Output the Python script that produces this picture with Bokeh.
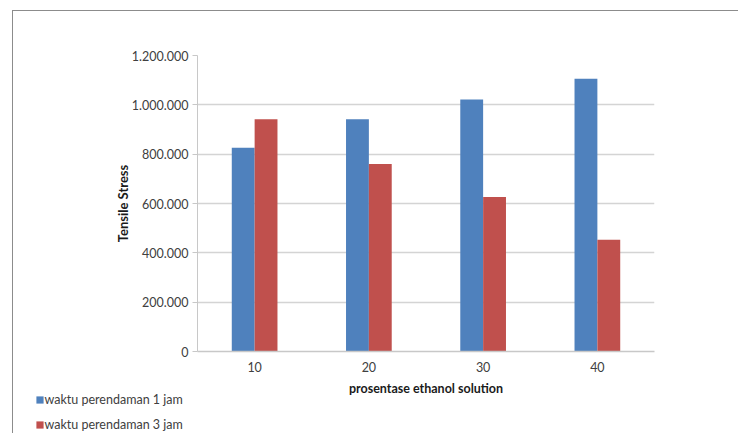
from bokeh.plotting import figure
from bokeh.layouts import column
from bokeh.models import (ColumnDataSource, FactorRange, Range1d, SingleIntervalTicker,
                          CustomJSTickFormatter, Legend, LegendItem)
from bokeh.transform import dodge
from bokeh.embed import file_html
from bokeh.resources import INLINE

# ---- data ----
categories = ["10", "20", "30", "40"]
series_names = ["waktu perendaman 1 jam", "waktu perendaman 3 jam"]
jam1 = [826000, 942000, 1022000, 1106000]
jam3 = [942000, 760000, 626000, 453000]
y_ticks_interval = 200000

BLUE = "#4f81bd"
RED = "#c0504d"
FONT = "Lato"

src = ColumnDataSource(dict(cat=categories, jam1=jam1, jam3=jam3))

p = figure(
    x_range=FactorRange(factors=categories, range_padding=0),
    y_range=Range1d(0, 1200000),
    width=725, height=390,
    output_backend="svg", toolbar_location=None,
    min_border_left=184, min_border_right=84,
    min_border_top=44, min_border_bottom=50,
)
p.frame_align = False

r1 = p.vbar(x=dodge("cat", -0.1, range=p.x_range), top="jam1", width=0.2,
            source=src, fill_color=BLUE, line_color=None)
r2 = p.vbar(x=dodge("cat", 0.1, range=p.x_range), top="jam3", width=0.2,
            source=src, fill_color=RED, line_color=None)

p.outline_line_color = None
p.background_fill_color = "white"
p.border_fill_color = "white"

# grid
p.xgrid.grid_line_color = None
p.ygrid.grid_line_color = "#d4d4d4"
p.ygrid.grid_line_width = 1.5

# y axis
p.yaxis.ticker = SingleIntervalTicker(interval=y_ticks_interval)
p.yaxis.formatter = CustomJSTickFormatter(
    code="return Math.round(tick).toString().replace(/\\B(?=(\\d{3})+(?!\\d))/g, '.');")
p.yaxis.axis_line_color = "#c8c8c8"
p.yaxis.major_tick_line_color = "#c8c8c8"
p.yaxis.major_tick_out = 5
p.yaxis.major_tick_in = 0
p.yaxis.minor_tick_line_color = None
p.yaxis.major_label_text_font = FONT
p.yaxis.major_label_text_font_size = "12.5px"
p.yaxis.major_label_text_color = "#404040"
p.yaxis.major_label_standoff = 4
p.yaxis.axis_label = "Tensile Stress"
p.yaxis.axis_label_text_font = FONT
p.yaxis.axis_label_text_font_size = "13px"
p.yaxis.axis_label_text_font_style = "bold"
p.yaxis.axis_label_text_color = "#1a1a1a"
p.yaxis.axis_label_standoff = -2

# x axis
p.xaxis.axis_line_color = "#c8c8c8"
p.xaxis.axis_line_width = 1.5
p.xaxis.major_tick_line_color = None
p.xaxis.major_tick_out = 0
p.xaxis.minor_tick_line_color = None
p.xaxis.major_label_text_font = FONT
p.xaxis.major_label_text_font_size = "12.5px"
p.xaxis.major_label_text_color = "#404040"
p.xaxis.major_label_standoff = 10
p.xaxis.axis_label = "prosentase ethanol solution"
p.xaxis.axis_label_text_font = FONT
p.xaxis.axis_label_text_font_size = "12.5px"
p.xaxis.axis_label_text_font_style = "bold"
p.xaxis.axis_label_text_color = "#1a1a1a"
p.xaxis.axis_label_standoff = 6

# ---- legend strip below the chart (overlaps the chart's bottom margin) ----
lf = figure(
    width=725, height=44,
    x_range=FactorRange(factors=categories), y_range=Range1d(0, 1),
    output_backend="svg", toolbar_location=None,
    x_axis_location=None, y_axis_location=None,
    min_border=0,
)
lf.frame_align = False
lf.margin = (-12, 0, 0, 0)
lf.grid.grid_line_color = None
lf.outline_line_color = None
lf.border_fill_alpha = 0
lf.background_fill_alpha = 0
lg1 = lf.vbar(x="cat", top="jam1", width=0.2, source=src, fill_color=BLUE,
              line_color=None, visible=False)
lg2 = lf.vbar(x="cat", top="jam3", width=0.2, source=src, fill_color=RED,
              line_color=None, visible=False)

legend = Legend(
    items=[LegendItem(label=series_names[0], renderers=[lg1]),
           LegendItem(label=series_names[1], renderers=[lg2])],
    location=(21.5, 0.7),
    orientation="vertical",
    padding=0, margin=0, spacing=10,
    glyph_width=9, glyph_height=9, label_height=9, label_standoff=1,
    label_text_font=FONT, label_text_font_size="12.5px", label_text_color="#404040",
    border_line_color=None, background_fill_alpha=0,
    inactive_fill_alpha=0,
)
lf.add_layout(legend, "center")

layout = column(p, lf, spacing=0)
layout.margin = (10, 0, 0, 12)
layout.styles = {"border-left": "1.5px solid #8c8c8c", "border-top": "1.5px solid #8c8c8c"}

open("out.html", "w").write(file_html(layout, INLINE))
